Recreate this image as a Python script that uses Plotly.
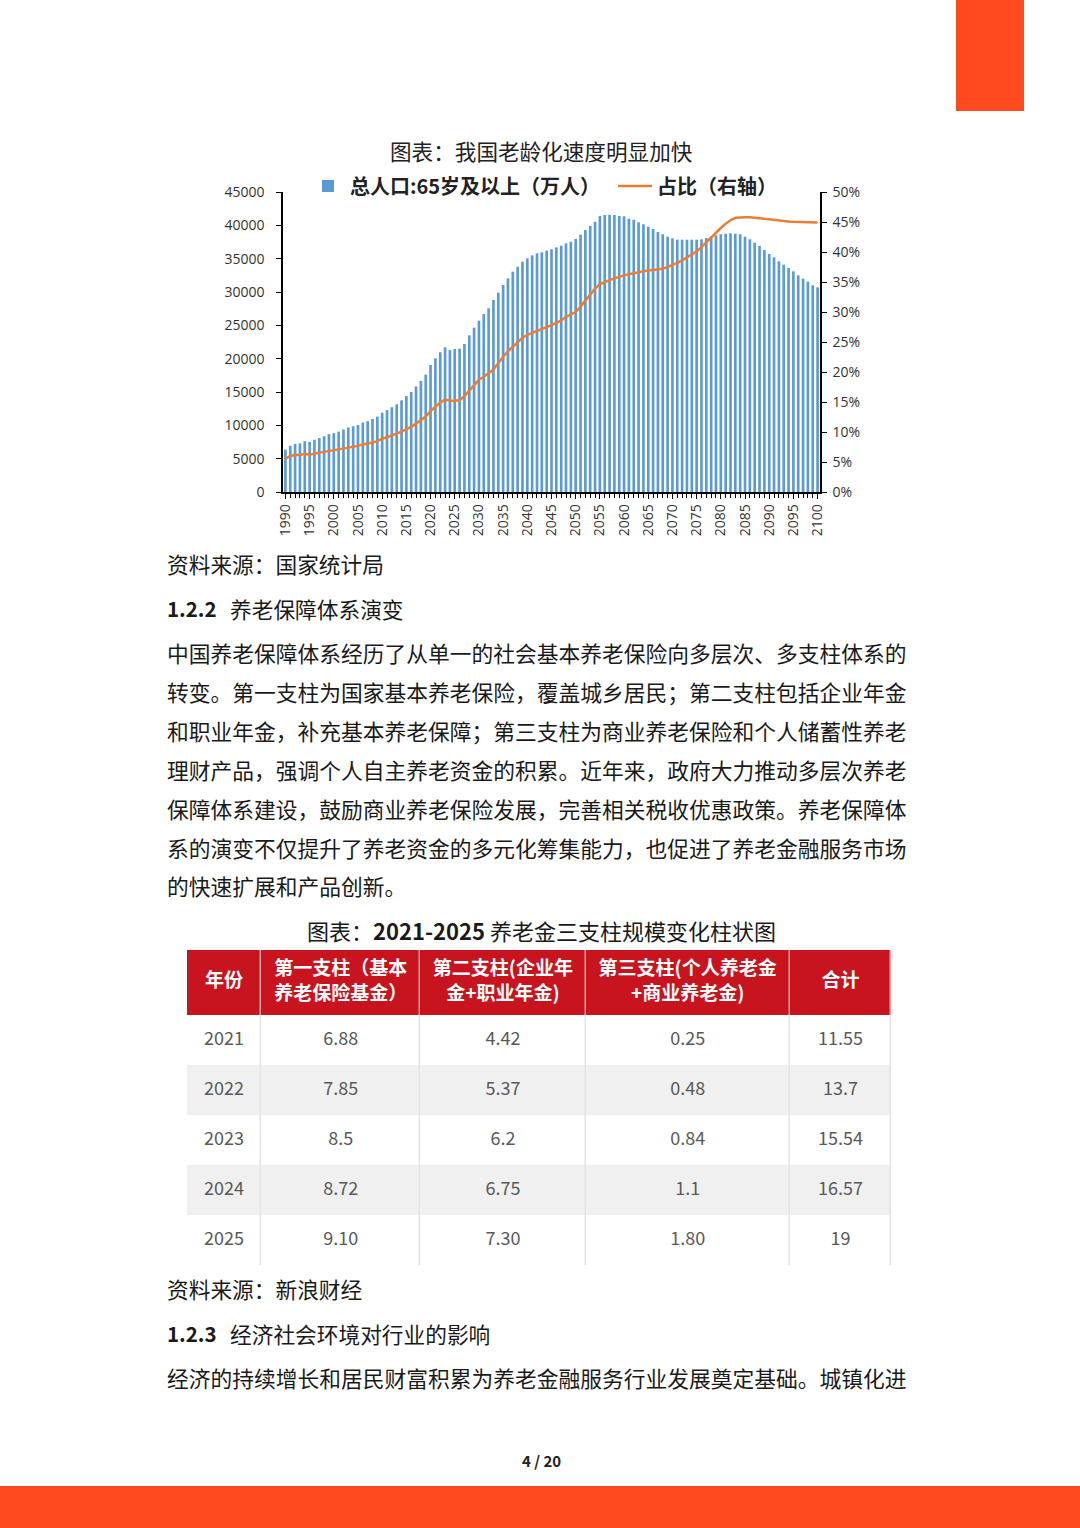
import plotly.graph_objects as go

# ---------------- data ----------------
years = list(range(1990, 2101))
pop_65 = [
    6368, 6938, 7218, 7289, 7622, 7510, 7833, 8085, 8359, 8679,
    8821, 9062, 9377, 9692, 9857, 10055, 10419, 10636, 10956, 11307,
    11894, 12288, 12714, 13161, 13755, 14386, 15003, 15831, 16658, 17603,
    19064, 20056, 20978, 21700, 21300, 21450, 21500, 22200, 23500, 24650,
    25700, 26700, 27550, 28800, 29900, 31050, 32050, 33050, 33800, 34550,
    35050, 35500, 35800, 35950, 36200, 36400, 36700, 36950, 37300, 37550,
    37950, 38600, 39300, 39900, 40550, 41400, 41550, 41600, 41550, 41400,
    41350, 41000, 40850, 40450, 40150, 39800, 39450, 39000, 38650, 38300,
    38050, 37850, 37850, 37850, 37850, 37850, 37900, 38100, 38300, 38500,
    38650, 38750, 38800, 38750, 38650, 38300, 37900, 37400, 36900, 36300,
    35700, 35200, 34600, 34100, 33600, 33100, 32500, 32000, 31550, 31000,
    30700,
]
share_pct = [
    5.57, 5.99, 6.16, 6.15, 6.36, 6.20, 6.40, 6.54, 6.70, 6.90,
    6.96, 7.10, 7.30, 7.50, 7.58, 7.69, 7.93, 8.05, 8.25, 8.47,
    8.87, 9.12, 9.39, 9.67, 10.06, 10.47, 10.85, 11.39, 11.94, 12.57,
    13.50, 14.20, 14.90, 15.40, 15.20, 15.20, 15.30, 16.00, 16.90, 17.90,
    18.70, 19.20, 19.80, 20.40, 21.50, 22.60, 23.50, 24.20, 25.00, 25.70,
    26.20, 26.50, 26.80, 27.10, 27.40, 27.80, 28.20, 28.60, 29.20, 29.60,
    30.00, 30.90, 31.90, 33.00, 33.90, 34.60, 35.00, 35.30, 35.60, 35.90,
    36.10, 36.30, 36.50, 36.70, 36.80, 36.90, 37.00, 37.10, 37.20, 37.50,
    37.80, 38.20, 38.60, 39.10, 39.60, 40.10, 40.80, 41.60, 42.50, 43.30,
    44.00, 44.70, 45.30, 45.70, 45.80, 45.80, 45.80, 45.70, 45.70, 45.60,
    45.50, 45.40, 45.30, 45.20, 45.10, 45.05, 45.00, 44.95, 44.90, 44.90,
    44.90,
]
left_ticks = [0, 5000, 10000, 15000, 20000, 25000, 30000, 35000, 40000, 45000]
right_ticks = [0, 5, 10, 15, 20, 25, 30, 35, 40, 45, 50]
right_tick_labels = ["0%", "5%", "10%", "15%", "20%", "25%", "30%", "35%", "40%", "45%", "50%"]
bar_name = "<b>总人口:65岁及以上（万人）</b>"
line_name = "<b>占比（右轴）</b>"
chart_title = "图表：我国老龄化速度明显加快"

table_header = [
    "<b>年份</b>",
    "<b>第一支柱（基本<br>养老保险基金）</b>",
    "<b>第二支柱(企业年<br>金+职业年金)</b>",
    "<b>第三支柱(个人养老金<br>+商业养老金)</b>",
    "<b>合计</b>",
]
table_years = ["2021", "2022", "2023", "2024", "2025"]
pillar1 = ["6.88", "7.85", "8.5", "8.72", "9.10"]
pillar2 = ["4.42", "5.37", "6.2", "6.75", "7.30"]
pillar3 = ["0.25", "0.48", "0.84", "1.1", "1.80"]
totals = ["11.55", "13.7", "15.54", "16.57", "19"]
table_title = "图表：<b>2021-2025</b> 养老金三支柱规模变化柱状图"

source1 = "资料来源：国家统计局"
heading1_num, heading1_text = "<b>1.2.2</b>", "养老保障体系演变"
para1 = [
    "中国养老保障体系经历了从单一的社会基本养老保险向多层次、多支柱体系的",
    "转变。第一支柱为国家基本养老保险，覆盖城乡居民；第二支柱包括企业年金",
    "和职业年金，补充基本养老保障；第三支柱为商业养老保险和个人储蓄性养老",
    "理财产品，强调个人自主养老资金的积累。近年来，政府大力推动多层次养老",
    "保障体系建设，鼓励商业养老保险发展，完善相关税收优惠政策。养老保障体",
    "系的演变不仅提升了养老资金的多元化筹集能力，也促进了养老金融服务市场",
    "的快速扩展和产品创新。",
]
source2 = "资料来源：新浪财经"
heading2_num, heading2_text = "<b>1.2.3</b>", "经济社会环境对行业的影响"
para2 = ["经济的持续增长和居民财富积累为养老金融服务行业发展奠定基础。城镇化进"]
page_no = "<b>4 / 20</b>"

# ---------------- layout helpers ----------------
W, H = 1080, 1528
CJK = "Noto Sans CJK SC"
NUM = "Open Sans"
ORANGE = "#FF4A1F"


def fx(px):
    return px / W


def fy(py):
    return 1 - py / H


fig = go.Figure()
fig.add_trace(go.Bar(
    x=years, y=pop_65, name=bar_name,
    marker=dict(color="#5B9BD5", line=dict(width=0)),
    xaxis="x", yaxis="y",
))
fig.add_trace(go.Scatter(
    x=years, y=share_pct, name=line_name, mode="lines",
    line=dict(color="#ED7D31", width=2.5),
    xaxis="x", yaxis="y2",
))

# ---------------- table (cells drawn on their own hidden axes) ----------------
col_widths = [74, 159, 165, 204, 101]
header_h, row_h = 65, 50
row_shade = [0, 1, 0, 1, 0]          # 0 = white row, 1 = grey row
col_edges = [0]
for w in col_widths:
    col_edges.append(col_edges[-1] + w)
row_edges = [0, header_h]
for _ in table_years:
    row_edges.append(row_edges[-1] + row_h)
col_centers = [(col_edges[i] + col_edges[i + 1]) / 2 for i in range(len(col_widths))]
row_centers = [(row_edges[i] + row_edges[i + 1]) / 2 for i in range(len(row_edges) - 1)]

z_cells = [[2] * len(col_widths)] + [[s] * len(col_widths) for s in row_shade]
fig.add_trace(go.Heatmap(
    x=col_edges, y=row_edges, z=z_cells, zmin=0, zmax=2,
    colorscale=[[0, "white"], [0.33, "white"], [0.33, "#F0F0F0"], [0.67, "#F0F0F0"],
                [0.67, "#C8141F"], [1, "#C8141F"]],
    showscale=False, xgap=1.5, ygap=0, hoverinfo="skip",
    xaxis="x3", yaxis="y3", showlegend=False,
))
columns = [table_years, pillar1, pillar2, pillar3, totals]
cell_x, cell_y, cell_t = [], [], []
for ci, col in enumerate(columns):
    for ri, val in enumerate(col):
        cell_x.append(col_centers[ci])
        cell_y.append(row_centers[ri + 1])
        cell_t.append(val)
fig.add_trace(go.Scatter(
    x=cell_x, y=cell_y, text=cell_t, mode="text", textposition="middle center",
    textfont=dict(family=CJK, size=18, color="#595959"),
    xaxis="x3", yaxis="y3", showlegend=False, hoverinfo="skip",
))
fig.add_trace(go.Scatter(
    x=col_centers, y=[row_centers[0]] * len(col_centers), text=table_header,
    mode="text", textposition="middle center",
    textfont=dict(family=CJK, size=19, color="white"),
    xaxis="x3", yaxis="y3", showlegend=False, hoverinfo="skip",
))

annotations = []


def add_text(text, x, y, size, anchor="left", color="#1a1a1a", family=CJK):
    annotations.append(dict(
        text=text, x=fx(x), y=fy(y), xref="paper", yref="paper",
        xanchor=anchor, yanchor="middle", showarrow=False,
        font=dict(family=family, size=size, color=color),
    ))


add_text(chart_title, 541, 150, 21.6, anchor="center", color="#222")
add_text(source1, 165, 563, 21.7)
add_text(heading1_num, 165, 608, 20.5)
add_text(heading1_text, 228, 608, 21.7)
for i, line in enumerate(para1):
    add_text(line, 165, 653 + i * 38.8, 21.76)
add_text(table_title, 541, 930, 22, anchor="center")
add_text(source2, 165, 1288, 21.7)
add_text(heading2_num, 165, 1333, 20.5)
add_text(heading2_text, 228, 1333, 21.7)
for i, line in enumerate(para2):
    add_text(line, 165, 1377 + i * 38.8, 21.76)
add_text(page_no, 541, 1460, 15, anchor="center", color="#222")

shapes = [
    dict(type="rect", xref="paper", yref="paper", x0=fx(956), x1=fx(1024),
         y0=fy(111), y1=1, fillcolor=ORANGE, line=dict(width=0)),
    dict(type="rect", xref="paper", yref="paper", x0=0, x1=1,
         y0=0, y1=fy(1486), fillcolor=ORANGE, line=dict(width=0)),
    # cell separator colours behind the heatmap bricks
    dict(type="rect", xref="x3", yref="y3", x0=col_edges[0], x1=col_edges[-1],
         y0=row_edges[1], y1=row_edges[-1], fillcolor="#E4E4E4", line=dict(width=0),
         layer="below"),
    dict(type="rect", xref="x3", yref="y3", x0=col_edges[0], x1=col_edges[-1],
         y0=row_edges[0], y1=row_edges[1], fillcolor="#EBA3A3", line=dict(width=0),
         layer="below"),
]

tickfont = dict(family=NUM, size=14, color="#333")
fig.update_layout(
    width=W, height=H,
    margin=dict(l=0, r=0, t=0, b=0, pad=0, autoexpand=False),
    paper_bgcolor="white", plot_bgcolor="white",
    bargap=0.45, showlegend=True,
    annotations=annotations, shapes=shapes,
    xaxis=dict(
        domain=[fx(283), fx(820)], range=[1989.5, 2100.5],
        tickmode="linear", tick0=1990, dtick=5, tickangle=-90,
        ticks="outside", ticklen=5, tickcolor="black", tickwidth=1,
        minor=dict(tickmode="linear", tick0=1990, dtick=1, ticks="outside",
                   ticklen=4, tickcolor="black", tickwidth=1, showgrid=False),
        showline=True, linecolor="black", linewidth=1.5, automargin=False,
        showgrid=False, zeroline=False, tickfont=tickfont, anchor="y",
    ),
    yaxis=dict(
        domain=[fy(492), fy(192)], range=[0, 45000],
        tickmode="array", tickvals=left_ticks, tickformat="d",
        ticks="outside", ticklen=5, tickcolor="black", ticklabelstandoff=9,
        showline=True, linecolor="black", linewidth=1.5, automargin=False,
        showgrid=False, zeroline=False, tickfont=tickfont, anchor="x",
    ),
    yaxis2=dict(
        overlaying="y", side="right", range=[0, 50], anchor="x",
        tickmode="array", tickvals=right_ticks, ticktext=right_tick_labels,
        ticks="outside", ticklen=5, tickcolor="black", ticklabelstandoff=3,
        showline=True, linecolor="black", linewidth=1.5, automargin=False,
        showgrid=False, zeroline=False, tickfont=tickfont,
    ),
    xaxis3=dict(domain=[fx(187), fx(891)], range=[col_edges[0], col_edges[-1]],
                visible=False, fixedrange=True, anchor="y3", automargin=False),
    yaxis3=dict(domain=[fy(950 + row_edges[-1]), fy(950)],
                range=[row_edges[-1], row_edges[0]],
                visible=False, fixedrange=True, anchor="x3", automargin=False),
    legend=dict(
        orientation="h", x=fx(306), xanchor="left", y=fy(186), yanchor="middle",
        font=dict(family=CJK, size=20, color="#222"),
        bgcolor="rgba(0,0,0,0)", itemwidth=34, entrywidth=258,
        entrywidthmode="pixels", traceorder="normal",
    ),
)

fig.write_html(
    "out.html",
    config={"displayModeBar": False},
    post_script="document.body.style.margin='0';document.body.style.overflow='hidden';",
)
